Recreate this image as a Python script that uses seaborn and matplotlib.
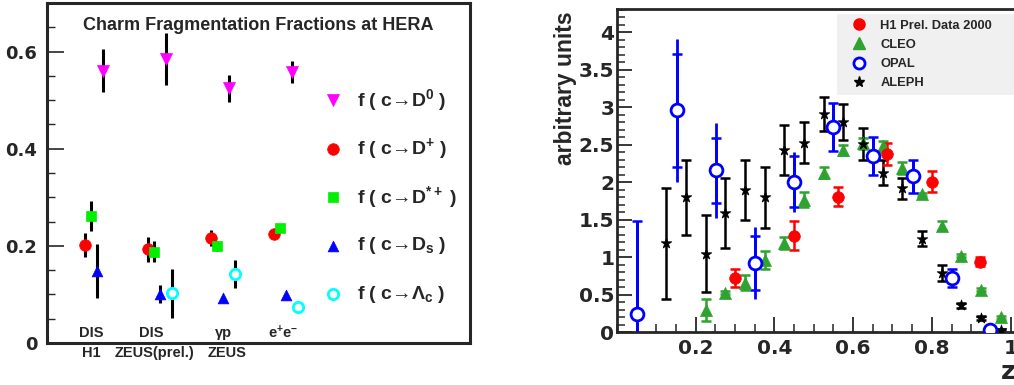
import numpy as np
import pandas as pd
import matplotlib
matplotlib.use("Agg")
import matplotlib.pyplot as plt
from matplotlib.ticker import MultipleLocator, FixedLocator, FuncFormatter
from matplotlib.lines import Line2D
import seaborn as sns

# ---------------- left panel: charm fragmentation fractions ----------------
groups = np.array([1, 2, 3, 4])
top_labels = ["DIS", "DIS", "γp", "e$^{+}$e$^{-}$"]
top_label_x = [0.81, 1.76, 2.92, 3.86]
exp_labels = ["H1", "ZEUS(prel.)", "ZEUS"]
exp_label_x = [0.81, 1.81, 2.97]

f_D0 = [0.561, 0.585, 0.524, 0.558]
f_D0_err = [0.045, 0.053, 0.027, 0.023]
f_Dp = [0.202, 0.193, 0.216, 0.224]
f_Dp_err = [0.025, 0.026, 0.017, 0.006]
f_Dst = [0.262, 0.188, 0.199, 0.236]
f_Dst_err = [0.031, 0.021, 0.010, 0.006]
f_Ds = [0.148, 0.101, 0.093, 0.099]
f_Ds_err = [0.055, 0.018, 0.0, 0.0]
f_Lc = [np.nan, 0.102, 0.142, 0.075]
f_Lc_err = [np.nan, 0.050, 0.028, 0.0]

species_labels = ["f ( c→D$^{0}$ )",
                  "f ( c→D$^{+}$ )",
                  "f ( c→D$^{*+}$ )",
                  "f ( c→D$_{s}$ )",
                  "f ( c→Λ$_{c}$ )"]
species_offset = [0.0, -0.285, -0.19, -0.095, 0.095]
legend_y = [0.5, 0.4, 0.3, 0.2, 0.1]

# ---------------- right panel: D* z spectrum ----------------
h1_z = [0.301, 0.45, 0.562, 0.685, 0.80, 0.922]
h1_y = [0.73, 1.29, 1.81, 2.38, 2.01, 0.94]
h1_err = [0.12, 0.19, 0.13, 0.15, 0.14, 0.06]

cleo_z = [0.225, 0.275, 0.325, 0.375, 0.425, 0.475, 0.525, 0.575,
          0.625, 0.675, 0.725, 0.775, 0.825, 0.875, 0.925, 0.975]
cleo_y = [0.30, 0.53, 0.66, 0.96, 1.19, 1.77, 2.13, 2.43,
          2.52, 2.48, 2.19, 1.84, 1.42, 1.02, 0.57, 0.20]
cleo_err = [0.15, 0.02, 0.10, 0.12, 0.08, 0.10, 0.07, 0.07,
            0.07, 0.07, 0.08, 0.02, 0.06, 0.02, 0.02, 0.02]

opal_z = [0.05, 0.152, 0.252, 0.351, 0.45, 0.55, 0.651, 0.751, 0.85, 0.948]
opal_y = [0.25, 2.96, 2.16, 0.92, 2.01, 2.74, 2.35, 2.08, 0.73, 0.03]
opal_err_tot = [1.23, 0.95, 0.63, 0.48, 0.40, 0.32, 0.25, 0.22, 0.12, 0.0]
opal_err_stat = [1.23, 0.75, 0.43, 0.36, 0.34, 0.32, 0.25, 0.22, 0.12, 0.0]

aleph_z = [0.125, 0.175, 0.225, 0.275, 0.325, 0.375, 0.425, 0.475, 0.525,
           0.575, 0.625, 0.675, 0.725, 0.775, 0.825, 0.875, 0.925, 0.975]
aleph_y = [1.19, 1.80, 1.05, 1.59, 1.90, 1.80, 2.43, 2.53, 2.91,
           2.80, 2.51, 2.13, 1.92, 1.25, 0.79, 0.36, 0.19, 0.03]
aleph_err = [0.74, 0.50, 0.51, 0.47, 0.40, 0.41, 0.33, 0.27, 0.23,
             0.24, 0.21, 0.17, 0.14, 0.10, 0.11, 0.03, 0.03, 0.01]

sns.set_style("ticks")
plt.rcParams["font.family"] = ["Liberation Sans", "DejaVu Sans"]
plt.rcParams["font.weight"] = "bold"
plt.rcParams["mathtext.fontset"] = "custom"
plt.rcParams["mathtext.rm"] = "Liberation Sans:bold"
plt.rcParams["mathtext.it"] = "Liberation Sans:bold"
plt.rcParams["mathtext.bf"] = "Liberation Sans:bold"

tick_font = {"family": "DejaVu Sans", "weight": "bold"}

fig = plt.figure(figsize=(10.14, 3.85), dpi=100)
ax1 = fig.add_axes([47 / 1014, 42 / 385, 423 / 1014, 340 / 385])
ax2 = fig.add_axes([617 / 1014, 52.7 / 385, 401.4 / 1014, 323.3 / 385])

# ---- left panel ----
series = [
    (f_D0, f_D0_err, "v", "#ff00ff", "#ff00ff", 75),
    (f_Dp, f_Dp_err, "o", "#ff0000", "#ff0000", 70),
    (f_Dst, f_Dst_err, "s", "#00f000", "#00f000", 60),
    (f_Ds, f_Ds_err, "^", "#0000ff", "#0000ff", 60),
    (f_Lc, f_Lc_err, "o", "white", "#00ffff", 55),
]
for i, (vals, errs, mk, fc, ec, size) in enumerate(series):
    x = groups + species_offset[i]
    ax1.errorbar(x, vals, yerr=errs, fmt="none", ecolor="black",
                 elinewidth=2.2, capsize=0, zorder=2)
    df = pd.DataFrame({"x": x, "y": vals}).dropna()
    lw = 2 if fc == "white" else 0.5
    sns.scatterplot(data=df, x="x", y="y", marker=mk, s=size, color=fc,
                    edgecolor=ec, linewidth=lw, ax=ax1, zorder=3, legend=False)
    # legend entry drawn inside the frame
    sns.scatterplot(x=[4.65], y=[legend_y[i]], marker=mk, s=size, color=fc,
                    edgecolor=ec, linewidth=lw, ax=ax1, zorder=3, legend=False)
    ax1.text(5.03, legend_y[i], species_labels[i], fontsize=14,
             fontweight="bold", va="center", ha="left")

for lab, xl in zip(top_labels, top_label_x):
    ax1.text(xl, 0.03, lab, transform=ax1.get_xaxis_transform(),
             ha="center", va="center", fontsize=10.5, fontweight="bold")
for lab, xl in zip(exp_labels, exp_label_x):
    ax1.text(xl, -0.03, lab, transform=ax1.get_xaxis_transform(),
             ha="center", va="center", fontsize=10.5, fontweight="bold",
             clip_on=False)

ax1.set_title("Charm Fragmentation Fractions at HERA", fontsize=13,
              fontweight="bold", y=0.92, pad=0)
ax1.set_xlim(0.111, 6.825)
ax1.set_ylim(0, 0.70)
ax1.set_xticks([])
ax1.set_yticks([0, 0.2, 0.4, 0.6])
ax1.set_yticklabels(["0", "0.2", "0.4", "0.6"], fontdict=tick_font)
ax1.yaxis.set_minor_locator(MultipleLocator(0.05))
ax1.tick_params(axis="y", which="major", direction="in", length=12,
                width=1.2, labelsize=13, pad=7)
ax1.tick_params(axis="y", which="minor", direction="in", length=6, width=1.0)
ax1.set_xlabel("")
ax1.set_ylabel("")
for sp in ax1.spines.values():
    sp.set_visible(True)
    sp.set_linewidth(2.2)

# ---- right panel ----
green = "#2fa32f"
ax2.errorbar(cleo_z, cleo_y, yerr=cleo_err, fmt="none", ecolor=green,
             elinewidth=1.8, capsize=3.5, capthick=1.8, zorder=2)
ax2.errorbar(aleph_z, aleph_y, yerr=aleph_err, fmt="none", ecolor="black",
             elinewidth=1.8, capsize=3.5, capthick=1.8, zorder=2)
ax2.errorbar(opal_z, opal_y, yerr=opal_err_tot, fmt="none", ecolor="#0000ff",
             elinewidth=2.0, capsize=0, zorder=2)
ax2.errorbar(opal_z, opal_y, yerr=opal_err_stat, fmt="none", ecolor="#0000ff",
             elinewidth=2.0, capsize=3.5, capthick=1.8, zorder=2)
ax2.errorbar(h1_z, h1_y, yerr=h1_err, fmt="none", ecolor="#ff0000",
             elinewidth=1.8, capsize=3.5, capthick=1.8, zorder=2)

sns.scatterplot(x=cleo_z, y=cleo_y, marker="^", s=75, color=green,
                edgecolor=green, linewidth=0.5, ax=ax2, zorder=3)
sns.scatterplot(x=aleph_z, y=aleph_y, marker="*", s=65, color="black",
                edgecolor="black", linewidth=0.5, ax=ax2, zorder=3)
sns.scatterplot(x=opal_z, y=opal_y, marker="o", s=85, color="white",
                edgecolor="#0000ff", linewidth=2.0, ax=ax2, zorder=3)
sns.scatterplot(x=h1_z, y=h1_y, marker="o", s=70, color="#ff0000",
                edgecolor="#ff0000", linewidth=0.5, ax=ax2, zorder=4)

handles = [
    Line2D([], [], ls="none", marker="o", ms=8, mfc="#ff0000", mec="#ff0000"),
    Line2D([], [], ls="none", marker="^", ms=8, mfc=green, mec=green),
    Line2D([], [], ls="none", marker="o", ms=8, mfc="white", mec="#0000ff", mew=2),
    Line2D([], [], ls="none", marker="*", ms=8, mfc="black", mec="black"),
]
leg = ax2.legend(handles, ["H1 Prel. Data 2000", "CLEO", "OPAL", "ALEPH"],
                 loc="upper left",
                 bbox_to_anchor=(837 / 1014, 1 - 89 / 385, 177 / 1014, 75 / 385),
                 bbox_transform=fig.transFigure, borderaxespad=0, mode="expand",
                 frameon=True, fancybox=False, facecolor="#f0f0f0",
                 edgecolor="none", framealpha=1, fontsize=9.3,
                 handletextpad=0.45, handlelength=2.45, labelspacing=0.55,
                 borderpad=0.45)
for t in leg.get_texts():
    t.set_fontweight("bold")

ax2.set_xlim(0, 1.02)
ax2.set_ylim(0, 4.31)
ax2.xaxis.set_major_locator(FixedLocator([0.2, 0.4, 0.6, 0.8, 1.0]))
ax2.xaxis.set_minor_locator(MultipleLocator(0.05))
ax2.yaxis.set_major_locator(MultipleLocator(0.5))
ax2.yaxis.set_minor_locator(MultipleLocator(0.1))
ax2.xaxis.set_major_formatter(FuncFormatter(lambda v, p: f"{v:g}"))
ax2.yaxis.set_major_formatter(FuncFormatter(lambda v, p: f"{v:g}"))
ax2.tick_params(axis="both", which="major", direction="in", length=11,
                width=1.3, labelsize=14.5)
ax2.tick_params(axis="both", which="minor", direction="in", length=5.5,
                width=1.1)
ax2.tick_params(axis="x", which="major", pad=5)
ax2.tick_params(axis="y", which="major", pad=2)
for lab in ax2.get_xticklabels() + ax2.get_yticklabels():
    lab.set_family("DejaVu Sans")
    lab.set_fontweight("bold")
ax2.set_xlabel("")
ax2.set_ylabel("arbitrary units", fontsize=16.5, fontweight="bold")
ax2.yaxis.set_label_coords(-0.1, 0.756)
for sp in ax2.spines.values():
    sp.set_visible(True)
    sp.set_linewidth(2.0)
fig.text(1008 / 1014, 13 / 385, "z", ha="center", va="center",
         fontsize=18, fontweight="bold", family="DejaVu Sans")

fig.savefig("out.png", dpi=100)
